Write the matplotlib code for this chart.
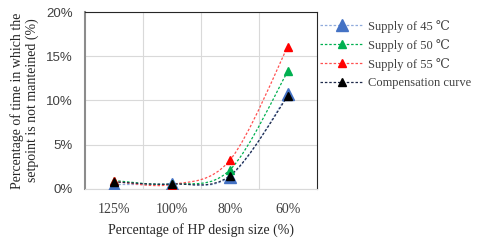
import numpy as np
import matplotlib.pyplot as plt
from matplotlib.path import Path
from matplotlib.patches import PathPatch
from matplotlib.lines import Line2D

plt.rcParams['font.family'] = ['Liberation Serif', 'DejaVu Serif']

sizes = ['125%', '100%', '80%', '60%']
supply_45 = [0.5, 0.6, 1.4, 10.7]
supply_50 = [0.95, 0.55, 2.15, 13.3]
supply_55 = [0.85, 0.5, 3.25, 16.1]
compensation = [0.8, 0.55, 1.5, 10.5]

series = [
    ('Supply of 45 \u2103', supply_45, '#8faadc', '#4472c4', 8),
    ('Supply of 50 \u2103', supply_50, '#00b050', '#00b050', 6),
    ('Supply of 55 \u2103', supply_55, '#ff5050', '#ff0000', 6),
    ('Compensation curve', compensation, '#1f2a4a', '#000000', 6),
]


def smooth_path(x, y, t=1/6):
    # catmull-rom style bezier through the points, like excel's smoothed line
    x = np.asarray(x, float); y = np.asarray(y, float)
    verts = [(x[0], y[0])]
    codes = [Path.MOVETO]
    n = len(x)
    for i in range(n - 1):
        p0 = (x[max(i - 1, 0)], y[max(i - 1, 0)])
        p1 = (x[i], y[i])
        p2 = (x[i + 1], y[i + 1])
        p3 = (x[min(i + 2, n - 1)], y[min(i + 2, n - 1)])
        c1 = (p1[0] + (p2[0] - p0[0]) * t, p1[1] + (p2[1] - p0[1]) * t)
        c2 = (p2[0] - (p3[0] - p1[0]) * t, p2[1] - (p3[1] - p1[1]) * t)
        verts += [c1, c2, p2]
        codes += [Path.CURVE4] * 3
    return Path(verts, codes)


fig = plt.figure(figsize=(4.8, 2.41), dpi=100)
ax = fig.add_axes([0.177, 0.216, 0.483, 0.734])

xs = np.arange(len(sizes))
handles = []
for label, vals, lc, mc, ms in series:
    ax.add_patch(PathPatch(smooth_path(xs, vals), fill=False, edgecolor=lc,
                           lw=0.9, ls=(0, (2, 1.5)), zorder=3))
    ax.plot(xs, vals, ls='none', marker='^', color=mc, markersize=ms, zorder=4)
    handles.append(Line2D([], [], color=lc, lw=0.9, ls=(0, (2, 1.5)),
                          marker='^', markerfacecolor=mc, markeredgecolor=mc,
                          markersize=ms))

ax.set_xlim(-0.5, 3.5)
ax.set_ylim(0, 20)
ax.set_xticks(xs)
ax.set_xticklabels(sizes, fontsize=10)
ax.set_yticks([0, 5, 10, 15, 20])
ax.set_yticklabels(['0%', '5%', '10%', '15%', '20%'], fontsize=9.5,
                   family=['Liberation Sans', 'DejaVu Sans'])
ax.set_xticks([0.5, 1.5, 2.5], minor=True)
ax.grid(True, axis='y', color='#d9d9d9', lw=0.8)
ax.grid(True, axis='x', which='minor', color='#d9d9d9', lw=0.8)
ax.set_axisbelow(True)
ax.tick_params(which='both', length=0, colors='#404040')
ax.tick_params(axis='x', pad=10)
ax.tick_params(axis='y', pad=9)

ax.spines['left'].set_color('#8c8c8c')
ax.spines['left'].set_linewidth(1.5)
ax.spines['bottom'].set_color('#d9d9d9')
ax.spines['top'].set_color('#262626')
ax.spines['right'].set_color('#262626')

ax.set_xlabel('Percentage of HP design size (%)', fontsize=10, color='#262626', labelpad=5)
ax.set_ylabel('Percentage of time in which the\nsetpoint is not manteined (%)',
              fontsize=10, color='#262626', labelpad=4.5)

fig.legend(handles=handles, labels=[s[0] for s in series],
           loc='upper left', bbox_to_anchor=(0.644, 0.965), frameon=False,
           fontsize=9, handlelength=3.4, handletextpad=0.45, labelspacing=0.5,
           labelcolor='#404040')

fig.savefig('out.png', dpi=100)
